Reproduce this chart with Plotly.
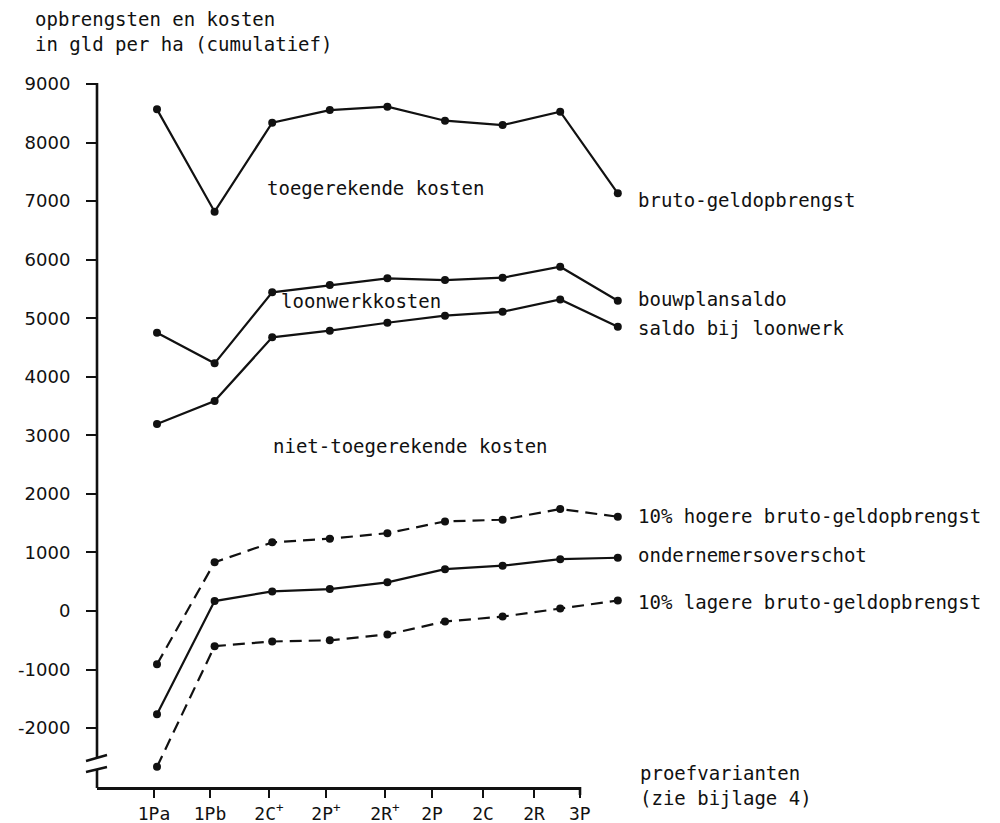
import plotly.graph_objects as go

# ---------------- data ----------------
categories = ["1Pa", "1Pb", "2C<sup>+</sup>", "2P<sup>+</sup>", "2R<sup>+</sup>", "2P", "2C", "2R", "3P"]
x_index = list(range(len(categories)))

bruto_geldopbrengst = [8567, 6819, 8338, 8555, 8612, 8373, 8299, 8527, 7133]
bouwplansaldo = [4752, 4230, 5442, 5567, 5681, 5652, 5692, 5880, 5299]
saldo_bij_loonwerk = [3193, 3586, 4674, 4787, 4923, 5043, 5110, 5320, 4855]
hogere_bruto = [-910, 832, 1173, 1235, 1330, 1530, 1560, 1742, 1610]
ondernemersoverschot = [-1764, 170, 335, 375, 490, 715, 775, 885, 910]
lagere_bruto = [-2660, -600, -520, -500, -400, -180, -95, 45, 180]

y_tick_values = [9000, 8000, 7000, 6000, 5000, 4000, 3000, 2000, 1000, 0, -1000, -2000]
y_tick_labels = ["9000", "8000", "7000", "6000", "5000", "4000", "3000", "2000", "1000", "0", "-1000", "-2000"]

series_labels = ["bruto-geldopbrengst", "bouwplansaldo", "saldo bij loonwerk",
                 "10% hogere bruto-geldopbrengst", "ondernemersoverschot",
                 "10% lagere bruto-geldopbrengst"]

# ---------------- layout helpers (window pixel -> paper) ----------------
W, H = 1000, 823
PAGE_MARGIN = 8   # default body margin of the html page
def px(x):
    return (x - PAGE_MARGIN) / W
def py(y):
    return 1 - (y - PAGE_MARGIN) / H

# the hand-drawn axis has tick marks slightly off the point columns
tick_positions = [-0.052, 0.92, 1.944, 2.934, 3.958, 4.774, 5.660, 6.545, 7.34]

X0_PX, STEP_PX = 157, 57.6          # pixel of first point, spacing
AX_LEFT, AX_RIGHT_DATA, AX_RIGHT_LINE = 97, 700, 581
r0 = -(X0_PX - AX_LEFT) / STEP_PX
r1_data = r0 + (AX_RIGHT_DATA - AX_LEFT) / STEP_PX
r1_line = r0 + (AX_RIGHT_LINE - AX_LEFT) / STEP_PX

MONO = "DejaVu Sans Mono"
INK = "#111111"
LW = 2.2
MS = 8

series = [
    (bruto_geldopbrengst, "solid", -7),
    (bouwplansaldo, "solid", 2),
    (saldo_bij_loonwerk, "solid", -1),
    (hogere_bruto, "12px,7px", 1),
    (ondernemersoverschot, "solid", 3),
    (lagere_bruto, "12px,7px", -2),
]

fig = go.Figure()
for (vals, dash, _), name in zip(series, series_labels):
    fig.add_trace(go.Scatter(
        x=x_index, y=vals, mode="lines+markers", name=name,
        line=dict(color=INK, width=LW, dash=dash),
        marker=dict(color=INK, size=MS),
        xaxis="x", yaxis="y", showlegend=False, cliponaxis=False,
    ))

# helper trace so the visible category axis is rendered
fig.add_trace(go.Scatter(x=[tick_positions[0]], y=[None], xaxis="x2", yaxis="y",
                         mode="markers", showlegend=False, hoverinfo="skip"))

annotations = []
for (vals, _, yshift), name in zip(series, series_labels):
    annotations.append(dict(
        xref="x", yref="y", x=x_index[-1], y=vals[-1], xshift=18, yshift=yshift,
        xanchor="left", yanchor="middle", text=name, showarrow=False,
        font=dict(family=MONO, size=19, color=INK)))

area_labels = [
    ("toegerekende kosten", 265, 188),
    ("loonwerkkosten", 279, 301),
    ("niet-toegerekende kosten", 271, 446),
]
for txt, lx, ly in area_labels:
    annotations.append(dict(
        xref="paper", yref="paper", x=px(lx), y=py(ly), xanchor="left", yanchor="middle",
        text=txt, showarrow=False, font=dict(family=MONO, size=19, color=INK)))

annotations.append(dict(
    xref="paper", yref="paper", x=px(33), y=py(6), xanchor="left", yanchor="top",
    align="left", text="opbrengsten en kosten<br>in gld per ha (cumulatief)", showarrow=False,
    font=dict(family=MONO, size=19, color=INK)))
annotations.append(dict(
    xref="paper", yref="paper", x=px(638), y=py(785), xanchor="left", yanchor="middle",
    align="left", text="proefvarianten<br>(zie bijlage 4)", showarrow=False,
    font=dict(family=MONO, size=19, color=INK)))

shapes = [
    # y axis line with a break near the bottom
    dict(type="line", xref="paper", yref="paper", x0=px(97), x1=px(97), y0=py(83), y1=py(757),
         line=dict(color=INK, width=2.6)),
    dict(type="line", xref="paper", yref="paper", x0=px(97), x1=px(97), y0=py(769), y1=py(788),
         line=dict(color=INK, width=2.6)),
    dict(type="line", xref="paper", yref="paper", x0=px(86), x1=px(107), y0=py(761), y1=py(755),
         line=dict(color=INK, width=2.4)),
    dict(type="line", xref="paper", yref="paper", x0=px(86), x1=px(107), y0=py(772), y1=py(767),
         line=dict(color=INK, width=2.4)),
    # small end tick at the right end of the x axis
    dict(type="line", xref="paper", yref="paper", x0=px(580), x1=px(580), y0=py(787), y1=py(795),
         line=dict(color=INK, width=2.6)),
]

fig.update_layout(
    width=W, height=H, margin=dict(l=0, r=0, t=0, b=0, autoexpand=False),
    paper_bgcolor="white", plot_bgcolor="rgba(0,0,0,0)", showlegend=False,
    xaxis=dict(domain=[px(AX_LEFT), px(AX_RIGHT_DATA)], range=[r0, r1_data], visible=False,
               anchor="y", automargin=False),
    xaxis2=dict(domain=[px(AX_LEFT), px(AX_RIGHT_LINE)], range=[r0, r1_line], anchor="y",
                tickmode="array", tickvals=tick_positions, ticktext=categories,
                ticks="outside", ticklen=8, tickwidth=2.4, tickcolor=INK, automargin=False,
                showline=True, linecolor=INK, linewidth=2.8, showgrid=False, zeroline=False,
                tickfont=dict(family=MONO, size=18, color=INK)),
    yaxis=dict(domain=[py(787), py(84)], range=[-3005, 9000], anchor="x2", automargin=False,
               tickmode="array", tickvals=y_tick_values, ticktext=y_tick_labels,
               ticks="outside", ticklen=10, tickwidth=2.2, tickcolor=INK,
               showline=False, showgrid=False, zeroline=False, ticklabelstandoff=12,
               tickfont=dict(family="DejaVu Sans", size=18, color=INK)),
    annotations=annotations, shapes=shapes,
)

fig.write_html("out.html")
